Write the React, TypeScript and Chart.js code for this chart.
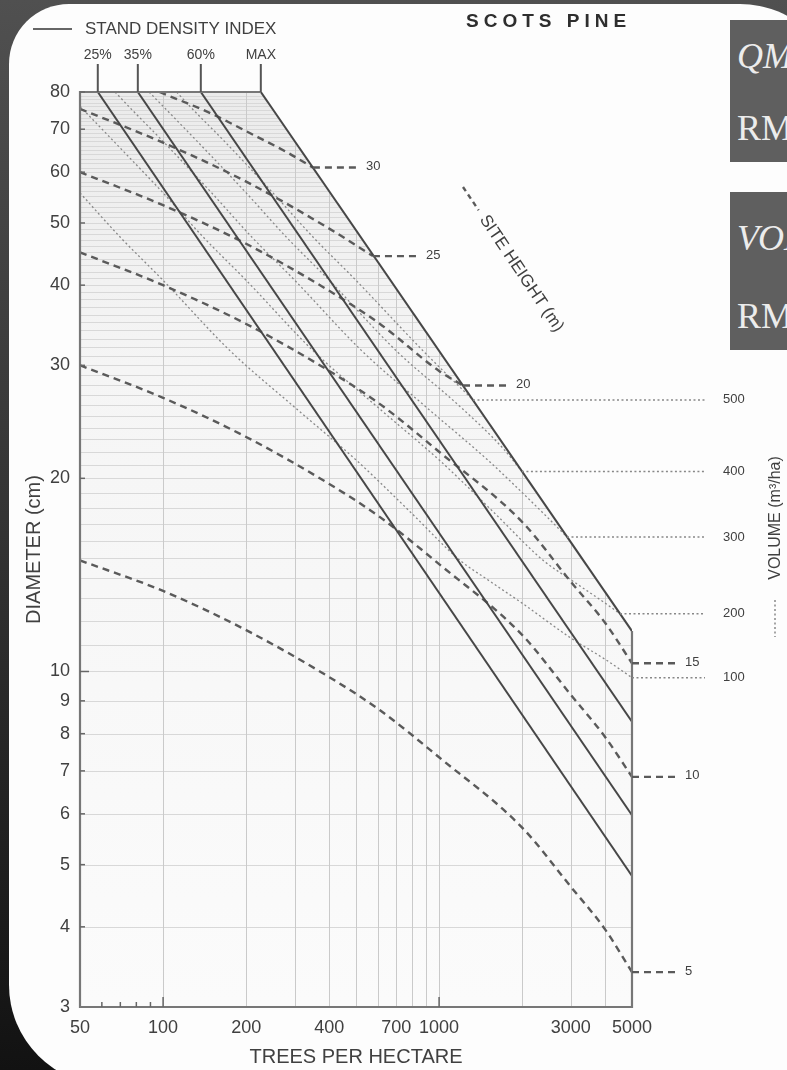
import React, { useEffect, useRef } from "react";
import { Chart, registerables } from "chart.js";

Chart.register(...registerables);

// ---- axis ticks ----
const xTickValues = [50, 100, 200, 400, 700, 1000, 3000, 5000];
const yTickValues = [3, 4, 5, 6, 7, 8, 9, 10, 20, 30, 40, 50, 60, 70, 80];
const xGridValues = [100, 200, 300, 400, 500, 600, 700, 800, 900, 1000, 2000, 3000, 4000];
const xMinorTicks = [60, 70, 80, 90];

// ---- stand density index lines [trees/ha, diameter cm] ----
const sdiLabels = ["25%", "35%", "60%", "MAX"];
const sdi25 = [[58, 80], [5000, 4.8]];
const sdi35 = [[81, 80], [5000, 5.97]];
const sdi60 = [[137, 80], [5000, 8.35]];
const sdiMax = [[226, 80], [5000, 11.56]];

// ---- site height curves (m) ----
const siteHeights = [5, 10, 15, 20, 25, 30];
const site5 = [[50, 14.9], [100, 13.35], [200, 11.6], [400, 9.8], [611, 8.7], [1000, 7.35], [2000, 5.71], [3000, 4.62], [4000, 3.96], [5000, 3.4]];
const site10 = [[50, 30], [100, 26.7], [200, 23.2], [400, 19.6], [611, 17.4], [1000, 14.7], [2000, 11.4], [3000, 9.2], [4000, 7.9], [5000, 6.85]];
const site15 = [[50, 45], [100, 40], [200, 34.8], [400, 29.4], [611, 26.1], [1000, 22], [2000, 17.1], [3000, 13.8], [4000, 11.9], [5000, 10.3]];
const site20 = [[50, 60], [100, 53.3], [200, 46.4], [400, 39.2], [611, 34.8], [1000, 29.4], [1221, 27.9]];
const site25 = [[50, 75.3], [100, 66.7], [200, 58], [400, 49], [576, 44.4]];
const site30 = [[97, 80], [150, 74], [200, 69.5], [280, 64.5], [349, 61]];

// ---- volume curves (m3/ha) ----
const volumeLevels = [100, 200, 300, 400, 500];
const vol100 = [[50, 55.7], [70, 47.5], [100, 40.7], [175, 31.6], [300, 25.8], [504, 21.3], [611, 19.7], [800, 17.6], [1191, 14.9], [1500, 13.9], [2014, 12.75], [2980, 11.3], [4059, 10.4], [5000, 9.78]];
const vol200 = [[50, 76], [70, 65.4], [100, 55.7], [140, 47.5], [200, 40.7], [350, 31.6], [600, 25.8], [1008, 21.3], [1222, 19.7], [1600, 17.6], [2382, 14.9], [3000, 13.9], [4028, 12.75], [4524, 12.3]];
const vol300 = [[67, 80], [75, 76], [100, 67], [150, 55.7], [210, 47.5], [300, 40.7], [525, 31.6], [900, 25.8], [1512, 21.3], [1833, 19.7], [2400, 17.6], [2907, 16.2]];
const vol400 = [[89, 80], [100, 76], [133, 67], [200, 55.7], [280, 47.5], [400, 40.7], [700, 31.6], [1200, 25.8], [1700, 22.3], [1996, 20.5]];
const vol500 = [[112, 80], [125, 76], [167, 67], [250, 55.7], [350, 47.5], [500, 40.7], [875, 31.6], [1327, 26.5]];

const sdiLines = [sdi25, sdi35, sdi60, sdiMax];
const siteCurves = [site5, site10, site15, site20, site25, site30];
const volCurves = [vol100, vol200, vol300, vol400, vol500];

const FONT = '"Liberation Sans", Arial, Helvetica, sans-serif';
const TXT = "#404040";

const toPts = (arr: number[][]) => arr.map(([x, y]) => ({ x, y }));

const dmdPlugin = {
  id: "dmd",
  beforeDatasetsDraw(chart: any) {
    const { ctx, chartArea: a, scales } = chart;
    const xs = scales.x, ys = scales.y;
    const P = (n: number, d: number) => [xs.getPixelForValue(n), ys.getPixelForValue(d)];
    const poly = [[50, 80], sdiMax[0], sdiMax[1], [5000, 3], [50, 3]];
    ctx.save();
    ctx.beginPath();
    poly.forEach(([n, d], i) => {
      const [px, py] = P(n, d);
      if (i) ctx.lineTo(px, py); else ctx.moveTo(px, py);
    });
    ctx.closePath();
    const g = ctx.createLinearGradient(0, a.top, 0, a.bottom);
    g.addColorStop(0, "#ebebeb");
    g.addColorStop(0.3, "#f5f5f5");
    g.addColorStop(1, "#fbfbfb");
    ctx.fillStyle = g;
    ctx.fill();
    ctx.clip();
    ctx.lineWidth = 1;
    ctx.strokeStyle = "#d8d8d8";
    for (let d = 4; d < 80; d++) {
      const py = Math.round(ys.getPixelForValue(d)) + 0.5;
      ctx.beginPath();
      ctx.moveTo(a.left, py);
      ctx.lineTo(a.right, py);
      ctx.stroke();
    }
    ctx.strokeStyle = "#cacaca";
    for (const n of xGridValues) {
      const px = Math.round(xs.getPixelForValue(n)) + 0.5;
      ctx.beginPath();
      ctx.moveTo(px, a.top);
      ctx.lineTo(px, a.bottom);
      ctx.stroke();
    }
    ctx.restore();
  },
  afterDatasetsDraw(chart: any) {
    const { ctx, chartArea: a, scales } = chart;
    const xs = scales.x, ys = scales.y;
    const P = (n: number, d: number) => [xs.getPixelForValue(n), ys.getPixelForValue(d)];
    ctx.save();
    // frame
    ctx.strokeStyle = "#777";
    ctx.lineWidth = 2.2;
    const [mx0] = P(sdiMax[0][0], 80);
    const [, myEnd] = P(5000, sdiMax[1][1]);
    ctx.beginPath();
    ctx.moveTo(mx0, a.top);
    ctx.lineTo(a.left, a.top);
    ctx.lineTo(a.left, a.bottom);
    ctx.lineTo(a.right, a.bottom);
    ctx.lineTo(a.right, myEnd);
    ctx.stroke();

    // ticks
    ctx.lineWidth = 1.5;
    ctx.strokeStyle = "#666";
    for (const v of yTickValues) {
      if (v === 3) continue;
      const py = ys.getPixelForValue(v);
      ctx.beginPath();
      ctx.moveTo(a.left, py);
      ctx.lineTo(a.left + (v === 10 ? 9 : 5), py);
      ctx.stroke();
    }
    for (const v of xMinorTicks) {
      const px = xs.getPixelForValue(v);
      ctx.beginPath();
      ctx.moveTo(px, a.bottom);
      ctx.lineTo(px, a.bottom - 5);
      ctx.stroke();
    }
    for (const v of [100, 1000]) {
      const px = xs.getPixelForValue(v);
      ctx.beginPath();
      ctx.moveTo(px, a.bottom);
      ctx.lineTo(px, a.bottom - 10);
      ctx.stroke();
    }

    // SDI label risers
    ctx.strokeStyle = "#555";
    ctx.lineWidth = 2;
    ctx.fillStyle = TXT;
    ctx.font = `14px ${FONT}`;
    ctx.textAlign = "center";
    ctx.textBaseline = "middle";
    sdiLines.forEach((l, i) => {
      const [px] = P(l[0][0], 80);
      ctx.beginPath();
      ctx.moveTo(px, a.top);
      ctx.lineTo(px, a.top - 28);
      ctx.stroke();
      ctx.fillText(sdiLabels[i], px, a.top - 37);
    });

    // legend for SDI
    ctx.strokeStyle = "#666";
    ctx.lineWidth = 2;
    ctx.beginPath();
    ctx.moveTo(33, 29);
    ctx.lineTo(72, 29);
    ctx.stroke();
    ctx.textAlign = "left";
    ctx.font = `17px ${FONT}`;
    ctx.fillText("STAND DENSITY INDEX", 85, 29);

    // title
    ctx.font = `bold 19px ${FONT}`;
    ctx.fillStyle = "#2e2e2e";
    (ctx as any).letterSpacing = "5px";
    ctx.fillText("SCOTS PINE", 466, 22);
    (ctx as any).letterSpacing = "0px";

    // site height stubs and labels
    ctx.fillStyle = TXT;
    ctx.font = `13px ${FONT}`;
    ctx.strokeStyle = "#5a5a5a";
    ctx.lineWidth = 2.4;
    ctx.setLineDash([7, 5]);
    siteCurves.forEach((c, i) => {
      const last = c[c.length - 1];
      const [ex, ey] = P(last[0], last[1]);
      ctx.beginPath();
      ctx.moveTo(ex, ey);
      ctx.lineTo(ex + 45, ey);
      ctx.stroke();
      ctx.fillText(String(siteHeights[i]), ex + 53, ey - 1);
    });

    // volume stubs and labels
    ctx.strokeStyle = "#888";
    ctx.lineWidth = 1.5;
    ctx.setLineDash([2, 2.5]);
    volCurves.forEach((c, i) => {
      const last = c[c.length - 1];
      const [ex, ey] = P(last[0], last[1]);
      ctx.beginPath();
      ctx.moveTo(ex, ey);
      ctx.lineTo(705, ey);
      ctx.stroke();
      ctx.fillText(String(volumeLevels[i]), 723, ey);
    });

    // site height rotated label
    ctx.save();
    ctx.translate(463, 187);
    ctx.rotate((56 * Math.PI) / 180);
    ctx.strokeStyle = "#5a5a5a";
    ctx.lineWidth = 2.4;
    ctx.setLineDash([5, 4]);
    ctx.beginPath();
    ctx.moveTo(0, 0);
    ctx.lineTo(28, 0);
    ctx.stroke();
    ctx.setLineDash([]);
    ctx.font = `17px ${FONT}`;
    ctx.fillStyle = TXT;
    ctx.fillText("SITE HEIGHT (m)", 36, 0);
    ctx.restore();

    // volume rotated label
    ctx.save();
    ctx.translate(776, 518);
    ctx.rotate(-Math.PI / 2);
    ctx.textAlign = "center";
    ctx.font = `16px ${FONT}`;
    ctx.fillStyle = TXT;
    ctx.fillText("VOLUME (m³/ha)", 0, 0);
    ctx.restore();
    ctx.strokeStyle = "#888";
    ctx.lineWidth = 1.5;
    ctx.setLineDash([2, 2.5]);
    ctx.beginPath();
    ctx.moveTo(775, 600);
    ctx.lineTo(775, 637);
    ctx.stroke();

    ctx.restore();
  },
};

export default function App() {
  const ref = useRef<HTMLCanvasElement>(null);
  useEffect(() => {
    const datasets: any[] = [];
    sdiLines.forEach((l, i) =>
      datasets.push({
        label: "SDI " + sdiLabels[i],
        data: toPts(l),
        borderColor: "#474747",
        borderWidth: 2,
        pointRadius: 0,
        fill: false,
        tension: 0,
      })
    );
    siteCurves.forEach((c, i) =>
      datasets.push({
        label: "Site " + siteHeights[i],
        data: toPts(c),
        borderColor: "#5a5a5a",
        borderWidth: 2.4,
        borderDash: [7, 5],
        pointRadius: 0,
        fill: false,
        cubicInterpolationMode: "monotone",
      })
    );
    volCurves.forEach((c, i) =>
      datasets.push({
        label: "Vol " + volumeLevels[i],
        data: toPts(c),
        borderColor: "#888",
        borderWidth: 1.3,
        borderDash: [2, 2.5],
        pointRadius: 0,
        fill: false,
        cubicInterpolationMode: "monotone",
      })
    );
    const tickFont = { family: FONT, size: 18 };
    const chart = new Chart(ref.current as HTMLCanvasElement, {
      type: "line",
      data: { datasets },
      plugins: [dmdPlugin as any],
      options: {
        responsive: false,
        animation: false,
        devicePixelRatio: 1,
        layout: { padding: { top: 92, right: 155, bottom: 0, left: 0 } },
        plugins: { legend: { display: false }, tooltip: { enabled: false } },
        scales: {
          x: {
            type: "logarithmic",
            min: 50,
            max: 5000,
            bounds: "data",
            grid: { display: false, drawTicks: false },
            border: { display: false },
            afterBuildTicks: (s: any) => {
              s.ticks = xTickValues.map((v) => ({ value: v }));
            },
            afterFit: (s: any) => {
              s.height = 63;
            },
            ticks: {
              autoSkip: false,
              maxRotation: 0,
              padding: 10,
              color: TXT,
              font: tickFont,
              callback: (v: any) => String(v),
            },
            title: {
              display: true,
              text: "TREES PER HECTARE",
              color: TXT,
              font: { family: FONT, size: 20 },
              padding: { top: 0, bottom: 1 },
            },
          } as any,
          y: {
            type: "logarithmic",
            min: 3,
            max: 80,
            bounds: "data",
            grid: { display: false, drawTicks: false },
            border: { display: false },
            afterBuildTicks: (s: any) => {
              s.ticks = yTickValues.map((v) => ({ value: v }));
            },
            afterFit: (s: any) => {
              s.width = 80;
            },
            ticks: {
              autoSkip: false,
              padding: 10,
              color: TXT,
              font: tickFont,
              callback: (v: any) => String(v),
            },
            title: {
              display: true,
              text: "DIAMETER (cm)",
              color: TXT,
              font: { family: FONT, size: 20 },
              padding: { top: 22, bottom: 0 },
            },
          } as any,
        },
      },
    });
    return () => chart.destroy();
  }, []);

  const boxStyle: React.CSSProperties = {
    position: "absolute",
    left: 730,
    width: 80,
    background: "#5f5f5f",
    color: "#ececec",
    fontFamily: '"Liberation Serif", "DejaVu Serif", serif',
    fontSize: 36,
    lineHeight: "36px",
    whiteSpace: "nowrap",
  };
  const line = (top: number, italic: boolean): React.CSSProperties => ({
    position: "absolute",
    left: 7,
    top,
    fontStyle: italic ? "italic" : "normal",
  });

  return (
    <div
      style={{
        position: "fixed",
        left: 0,
        top: 0,
        width: 787,
        height: 1070,
        overflow: "hidden",
        background: "linear-gradient(180deg, #505050 0%, #333 50%, #121212 100%)",
      }}
    >
      <div
        style={{
          position: "absolute",
          left: 9,
          top: 4,
          width: 831,
          height: 1081,
          background: "#fdfdfd",
          borderRadius: "60px 100px 100px 100px",
        }}
      />
      <canvas
        ref={ref}
        width={787}
        height={1070}
        style={{ position: "absolute", left: 0, top: 0, width: 787, height: 1070 }}
      />
      <div style={{ ...boxStyle, top: 20, height: 142 }}>
        <div style={line(18, true)}>QMD</div>
        <div style={line(90, false)}>RMSE</div>
      </div>
      <div style={{ ...boxStyle, top: 192, height: 158 }}>
        <div style={line(28, true)}>VOL</div>
        <div style={line(106, false)}>RMSE</div>
      </div>
    </div>
  );
}
